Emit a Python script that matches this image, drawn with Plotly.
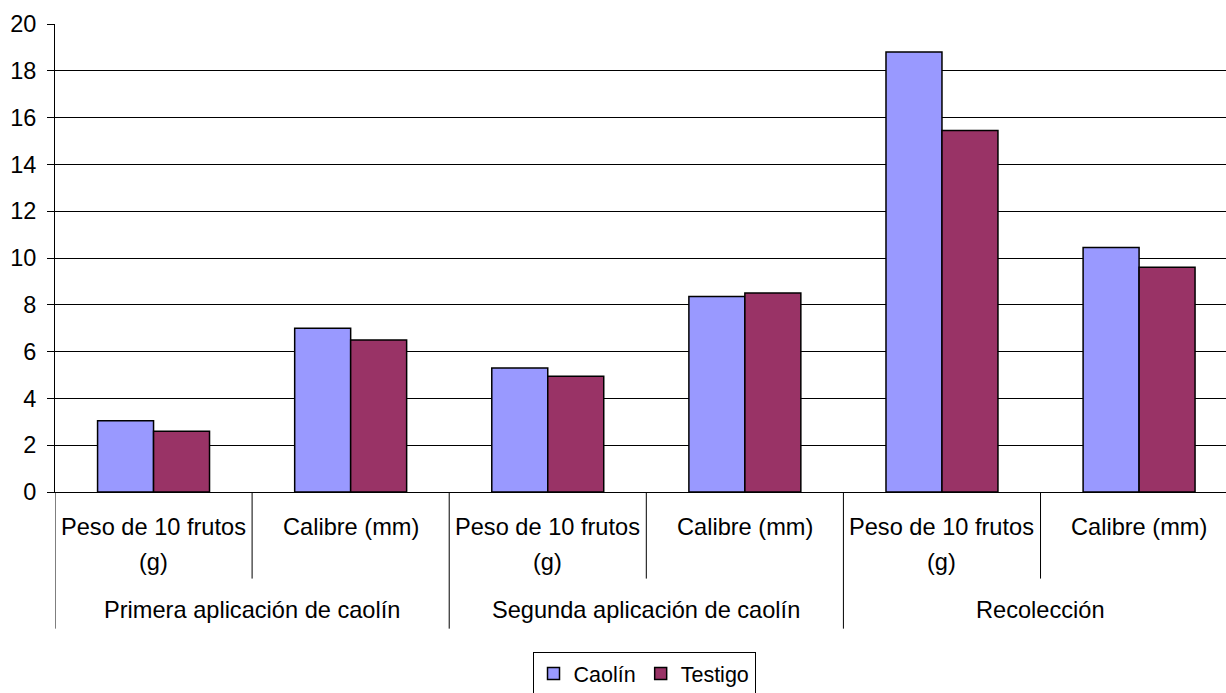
import plotly.graph_objects as go

# Measurement groups and the measurement taken in each
groups = ["Primera aplicación de caolín", "Segunda aplicación de caolín", "Recolección"]
measures = ["Peso de 10 frutos\n(g)", "Calibre (mm)"]

# Values per (group, measure), in order
caolin = [3.05, 7.0, 5.3, 8.35, 18.8, 10.45]
testigo = [2.6, 6.5, 4.95, 8.5, 15.45, 9.6]

y_ticks = [0, 2, 4, 6, 8, 10, 12, 14, 16, 18, 20]

FONT = "Liberation Sans, Arial, sans-serif"
n_cat = len(groups) * len(measures)
xs = list(range(n_cat))

fig = go.Figure()
fig.add_trace(go.Bar(x=xs, y=caolin, name="Caolín",
                     marker=dict(color="#9999FF", line=dict(color="black", width=1.5))))
fig.add_trace(go.Bar(x=xs, y=testigo, name="Testigo",
                     marker=dict(color="#993366", line=dict(color="black", width=1.5))))

# Two-level category labels below the axis
annotations = []
shapes = []
for gi, g in enumerate(groups):
    for mi, m in enumerate(measures):
        idx = gi * len(measures) + mi
        for li, line in enumerate(m.split("\n")):
            annotations.append(dict(x=idx, y=-0.0748 - li * 0.0749, xref="x", yref="paper",
                                    xanchor="center", yanchor="middle",
                                    text=line, showarrow=False,
                                    font=dict(family=FONT, size=23.6, color="black")))
    centre = gi * len(measures) + (len(measures) - 1) / 2
    annotations.append(dict(x=centre, y=-0.253, xref="x", yref="paper", text=g,
                            xanchor="center", yanchor="middle",
                            showarrow=False, font=dict(family=FONT, size=23.6, color="black")))

# Divider lines: short ones between measures, long ones between groups
for b in range(n_cat + 1):
    edge = b - 0.5
    is_group_edge = b % len(measures) == 0
    shapes.append(dict(type="line", xref="x", yref="paper", x0=edge, x1=edge,
                       y0=0, y1=-0.292 if is_group_edge else -0.185,
                       line=dict(color="black", width=1)))

fig.update_layout(
    width=1226, height=693,
    margin=dict(l=55, r=0, t=24, b=201, autoexpand=False),
    paper_bgcolor="white", plot_bgcolor="white",
    barmode="group", bargap=0.432, bargroupgap=0,
    font=dict(family=FONT, size=23, color="black"),
    xaxis=dict(range=[-0.5, 5.441], showticklabels=False, ticks="",
               showgrid=False, zeroline=False, showline=True,
               linecolor="black", linewidth=1),
    yaxis=dict(range=[0, 20], tickvals=y_ticks, ticks="outside", ticklen=7,
               ticklabelstandoff=6,
               tickcolor="black", showgrid=True, gridcolor="black", gridwidth=1,
               zeroline=False, showline=True, linecolor="black", linewidth=1,
               tickfont=dict(family=FONT, size=23.5, color="black")),
    legend=dict(orientation="h", x=0.503, xanchor="center", y=-0.342, yanchor="top",
                bordercolor="black", borderwidth=1, bgcolor="white",
                font=dict(family=FONT, size=21.5, color="black"),
                itemwidth=30, tracegroupgap=0),
    annotations=annotations, shapes=shapes,
    showlegend=True,
)

fig.write_html("out.html")
